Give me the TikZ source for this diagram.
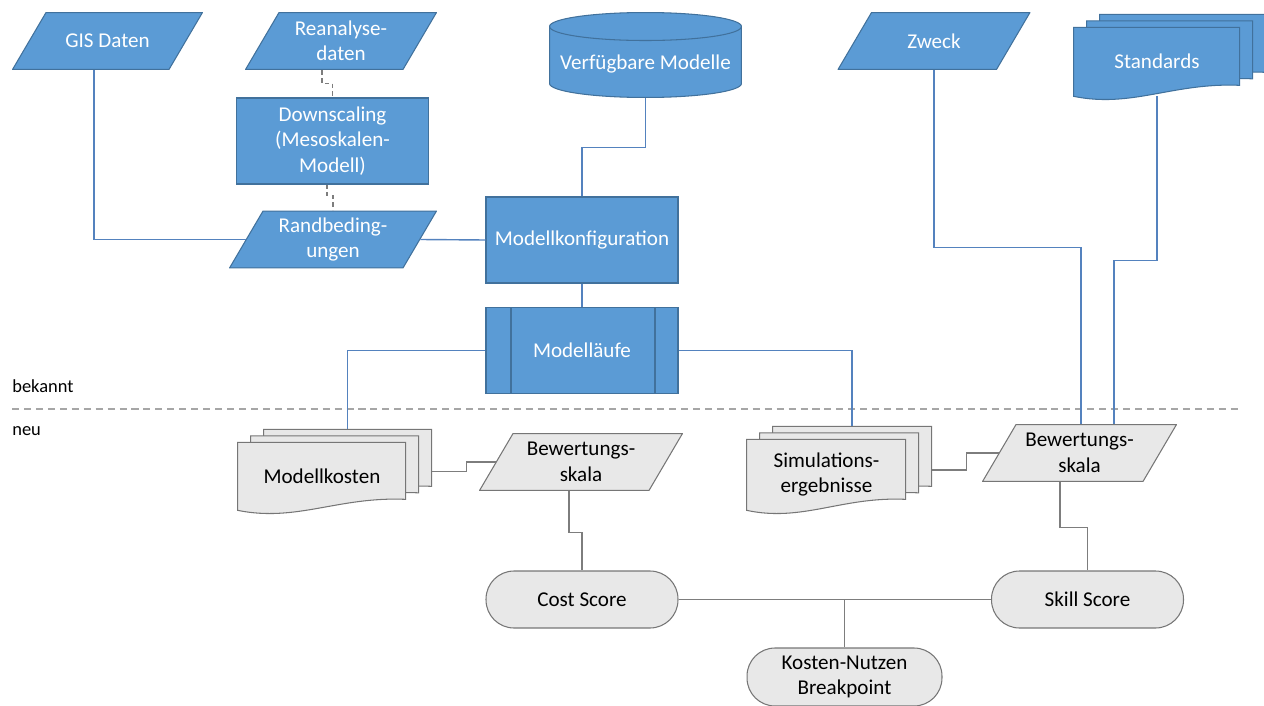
\documentclass[tikz,border=0pt]{standalone}
\usepackage{fontspec}
\setmainfont{Carlito}
\usetikzlibrary{backgrounds}

\definecolor{blau}{RGB}{91,155,213}
\definecolor{blaurand}{RGB}{65,113,156}
\definecolor{blaulinie}{RGB}{84,130,190}
\definecolor{grau}{RGB}{232,232,232}
\definecolor{graurand}{RGB}{118,118,118}
\definecolor{graulinie}{RGB}{125,125,125}
\definecolor{strich}{RGB}{166,166,166}

\tikzset{
  box/.style={rectangle, draw=blaurand, fill=blau, text=white, line width=0.6pt,
    minimum width=3.84cm, minimum height=1.72cm, align=center, inner sep=2pt},
  vordef/.style={box, path picture={
    \draw[blaurand, line width=0.6pt]
      ([xshift=0.5cm]path picture bounding box.north west) -- ([xshift=0.5cm]path picture bounding box.south west)
      ([xshift=-0.46cm]path picture bounding box.north east) -- ([xshift=-0.46cm]path picture bounding box.south east);}},
  speicher/.style={rectangle, text=white, minimum width=3.86cm, minimum height=1.72cm,
    text height=0.68cm, text depth=0.1cm, path picture={
    \path (path picture bounding box.north) ++(0,14.5) coordinate (o)
          (path picture bounding box.south) ++(0,-14.5) coordinate (u);
    \filldraw[fill=blau, draw=blaurand, line width=0.6pt]
      ([xshift=-1.92cm]u) arc[start angle=180, end angle=360, x radius=1.92cm, y radius=0.28cm]
      -- ([xshift=1.92cm]o) arc[start angle=0, end angle=180, x radius=1.92cm, y radius=0.28cm] -- cycle;
    \draw[blaurand, line width=0.6pt]
      ([xshift=-1.92cm]o) arc[start angle=180, end angle=360, x radius=1.92cm, y radius=0.28cm];}},
  daten/.style 2 args={rectangle, minimum height=1.16cm, align=center, inner sep=1pt, path picture={
    \filldraw[fill=#1, draw=#2, line width=0.6pt]
      ([xshift=0.3pt, yshift=0.3pt]path picture bounding box.south west)
      -- ([xshift=-0.68cm, yshift=0.3pt]path picture bounding box.south east)
      -- ([xshift=-0.3pt, yshift=-0.3pt]path picture bounding box.north east)
      -- ([xshift=0.68cm, yshift=-0.3pt]path picture bounding box.north west) -- cycle;}},
  blaudaten/.style={daten={blau}{blaurand}, text=white},
  grauedaten/.style={daten={grau}{graurand}, text=black},
  dok/.style={rectangle, inner sep=0pt, align=center},
  ende/.style={rectangle, rounded corners=0.56cm, draw=graurand, fill=grau, line width=0.6pt,
    minimum width=3.84cm, minimum height=1.14cm, align=center},
  linie/.style={draw=blaulinie, line width=0.8pt},
  grauelinie/.style={draw=graulinie, line width=0.8pt},
  gestrichelt/.style={draw=graulinie, line width=0.8pt, dash pattern=on 2.5pt off 2pt}
}

% stack of three documents behind node #1 (width #2, height #3 in px)
\newcommand{\dokstapel}[5]{%
  \begin{scope}[shift={(#1.south west)}]
    \foreach \d in {26,13,0}
      \filldraw[fill=#4, draw=#5, line width=0.6pt, shift={(\d,-\d/2)}]
        (0,-#3) -- (#2,-#3) -- (#2,-11) .. controls ({0.6*#2},-14) and ({0.35*#2},12) .. (0,0) -- cycle;
    \coordinate (#1-oben) at ({#2/2+26},{-#3-13});
    \coordinate (#1-rechts) at ({#2+26},{-#3/2-5});
  \end{scope}}

\begin{document}
\begin{tikzpicture}[x=0.02cm, y=-0.02cm, every node/.style={font=\fontsize{12}{14.5}\selectfont}]
  \useasboundingbox (0,0) rectangle (1264,706);

  % bekannt
  \node[blaudaten, minimum width=3.82cm] (gis) at (107.5,41) {GIS Daten};
  \node[blaudaten, minimum width=3.84cm] (rean) at (341,41) {Reanalyse-\\daten};
  \node[box] (down) at (332.5,141) {Downscaling\\(Mesoskalen-\\Modell)};
  \node[blaudaten, minimum width=4.16cm] (rand) at (333,239.5) {Randbeding-\\ungen};
  \node[speicher] (modelle) at (645.5,55) {Verfügbare Modelle};
  \node[box] (konfig) at (582,240) {Modellkonfiguration};
  \node[vordef] (laeufe) at (582,350.5) {Modelläufe};
  \node[blaudaten, minimum width=3.86cm] (zweck) at (934,41) {Zweck};
  \node[dok, text=white, minimum width=3.32cm, minimum height=1.38cm] (standards) at (1157,61.5) {Standards};

  % neu
  \node[dok, minimum width=3.36cm, minimum height=1.36cm] (kosten) at (322,476) {Modellkosten};
  \node[grauedaten, minimum width=4.08cm] (bewL) at (581,462) {Bewertungs-\\skala};
  \node[dok, minimum width=3.18cm, minimum height=1.42cm] (sim) at (826.5,474.5) {Simulations-\\ergebnisse};
  \node[grauedaten, minimum width=3.9cm] (bewR) at (1079.5,453) {Bewertungs-\\skala};
  \node[ende] (cost) at (582,599.5) {Cost Score};
  \node[ende] (skill) at (1087.5,599.5) {Skill Score};
  \node[ende, minimum width=3.9cm, minimum height=1.16cm] (kn) at (844.5,677) {Kosten-Nutzen\\Breakpoint};

  \begin{pgfonlayer}{background}
    \dokstapel{standards}{166}{69}{blau}{blaurand}
    \dokstapel{kosten}{168}{68}{grau}{graurand}
    \dokstapel{sim}{159}{71}{grau}{graurand}
  \end{pgfonlayer}

  \node[anchor=base west, inner sep=0pt, font=\fontsize{10.5}{12}\selectfont] (bekannt) at (12,392) {bekannt};
  \node[anchor=base west, inner sep=0pt, font=\fontsize{10.5}{12}\selectfont] (neu) at (12,435) {neu};
  \coordinate (trennL) at (12,409);
  \coordinate (trennR) at (1240,409);
  \draw[strich, line width=1pt, dash pattern=on 4pt off 2.8pt] (trennL) -- (trennR);

  \draw[gestrichelt] ([xshift=-0.38cm]rean.south) -- ++(0,13) -| (down.north);
  \draw[gestrichelt] ([xshift=-0.11cm]down.south) -- ++(0,11) -| (rand.north);
  \draw[linie] ([xshift=-0.27cm]gis.south) |- ([xshift=0.34cm]rand.west);
  \draw[linie] ([xshift=-0.34cm]rand.east) -- (konfig.west);
  \draw[linie] (modelle.south) -- ++(0,49) -| (konfig.north);
  \draw[linie] (konfig.south) -- (laeufe.north);
  \draw[linie] (laeufe.west) -| (kosten-oben);
  \draw[linie] (laeufe.east) -| (sim-oben);
  \draw[linie] (zweck.south) -- ++(0,177) -| ([xshift=0.03cm]bewR.north);
  \draw[linie] (standards.south) -- ++(0,164) -| ([xshift=0.69cm]bewR.north);

  \draw[grauelinie] (kosten-rechts) -- ++(35,0) |- ([xshift=0.34cm]bewL.west);
  \draw[grauelinie] (sim-rechts) -- ++(35,0) |- ([xshift=0.34cm]bewR.west);
  \draw[grauelinie] ([xshift=-0.24cm]bewL.south) -- ++(0,41) -| (cost.north);
  \draw[grauelinie] ([xshift=-0.39cm]bewR.south) -- ++(0,45) -| (skill.north);
  \draw[grauelinie] (cost.east) -- (skill.west);
  \draw[grauelinie] (kn.north) -- (kn.north |- cost.east);
\end{tikzpicture}
\end{document}
